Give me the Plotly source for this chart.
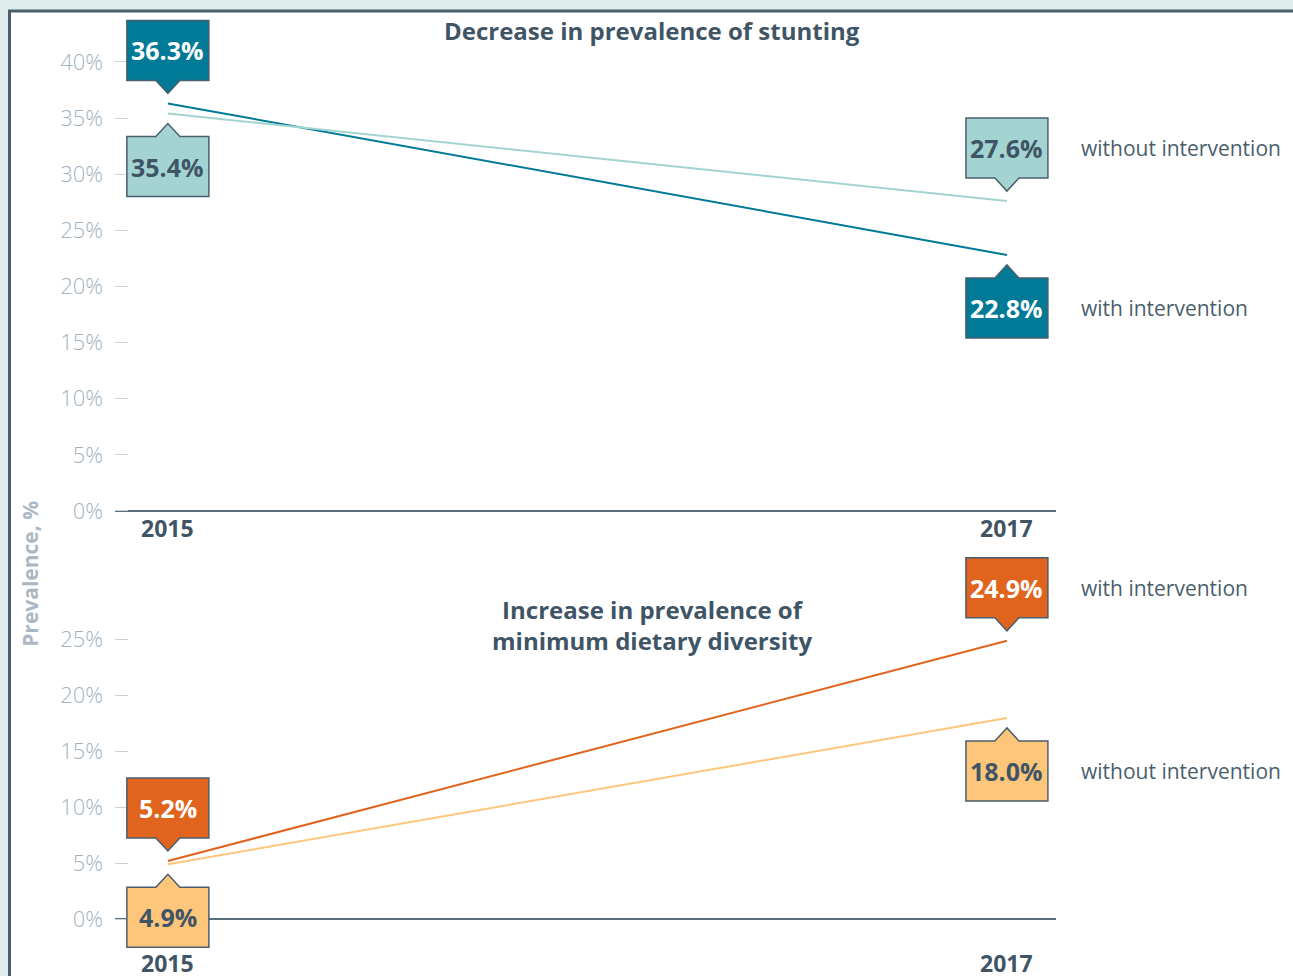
import plotly.graph_objects as go

years = [2015, 2017]
year_labels = ["2015", "2017"]

stunting_with = [36.3, 22.8]
stunting_without = [35.4, 27.6]
diversity_with = [5.2, 24.9]
diversity_without = [4.9, 18.0]

top_ticks = [0, 5, 10, 15, 20, 25, 30, 35, 40]
top_tick_text = ["0%", "5%", "10%", "15%", "20%", "25%", "30%", "35%", "40%"]
bottom_ticks = [0, 5, 10, 15, 20, 25]
bottom_tick_text = ["0%", "5%", "10%", "15%", "20%", "25%"]

DARK = "#3f5566"
EDGE = "#4a5e6d"
TEAL = "#007a96"
LIGHT_TEAL = "#a3d4d2"
ORANGE = "#e0631e"
LIGHT_ORANGE = "#fdc67b"
FONT = "Open Sans"

# pixel geometry of the page (margins 0 top/bottom, plot x from 115 to 1056)
W, H = 1293, 976
L, R = 115, 1056


def px_x(p):
    return (p - L) / (R - L)


def px_y(p):
    return (H - p) / H


# series: values, colour, text colour, callout side per year, axis suffix, label
series = [
    (stunting_with, TEAL, "white", ["up", "down"], "", "with intervention"),
    (stunting_without, LIGHT_TEAL, DARK, ["down", "up"], "", "without intervention"),
    (diversity_with, ORANGE, "white", ["up", "up"], "2", "with intervention"),
    (diversity_without, LIGHT_ORANGE, DARK, ["down", "down"], "2", "without intervention"),
]

fig = go.Figure()
shapes = []
annotations = []

# white panel with dark border on a light background
shapes.append(dict(type="rect", xref="paper", yref="paper",
                   x0=px_x(9.5), x1=px_x(1310), y0=px_y(1000), y1=px_y(11),
                   fillcolor="white", line=dict(color=EDGE, width=3), layer="below"))

for values, color, txt_color, sides, ax, label in series:
    fig.add_trace(go.Scatter(x=years, y=values, mode="lines",
                             line=dict(color=color, width=2),
                             xaxis="x" + ax, yaxis="y" + ax,
                             hoverinfo="skip", showlegend=False))
    for yr, v, side in zip(years, values, sides):
        s = 1 if side == "up" else -1
        path = ("M -41 {a} L -41 {b} L 41 {b} L 41 {a} L 12 {a} L 0 {t} L -12 {a} Z"
                .format(a=23 * s, b=83 * s, t=10 * s))
        shapes.append(dict(type="path", xref="x" + ax, yref="y" + ax,
                           xsizemode="pixel", ysizemode="pixel",
                           xanchor=yr, yanchor=v, path=path,
                           fillcolor=color, line=dict(color=EDGE, width=1.5),
                           layer="above"))
        annotations.append(dict(x=yr, y=v, xref="x" + ax, yref="y" + ax,
                                text="<b>%.1f%%</b>" % v, showarrow=False,
                                yshift=53 * s,
                                font=dict(family=FONT, size=25, color=txt_color)))
    annotations.append(dict(x=years[-1], y=values[-1], xref="x" + ax, yref="y" + ax,
                            text=label, showarrow=False, xanchor="left",
                            xshift=72, yshift=(53 if sides[-1] == "up" else -53),
                            font=dict(family=FONT, size=21, color=EDGE)))

# year labels
for ax, shift in [("", -17), ("2", -44)]:
    for yr, lab in zip(years, year_labels):
        annotations.append(dict(x=yr, y=0, xref="x" + ax, yref="y" + ax,
                                text="<b>%s</b>" % lab, showarrow=False,
                                yshift=shift,
                                font=dict(family=FONT, size=23, color=DARK)))

# titles
annotations.append(dict(xref="paper", yref="paper", x=px_x(652), y=px_y(31),
                        xanchor="center", yanchor="middle",
                        text="<b>Decrease in prevalence of stunting</b>",
                        showarrow=False,
                        font=dict(family=FONT, size=24, color=DARK)))
annotations.append(dict(xref="paper", yref="paper", x=px_x(652), y=px_y(626),
                        xanchor="center", yanchor="middle",
                        text="<b>Increase in prevalence of<br>minimum dietary diversity</b>",
                        showarrow=False,
                        font=dict(family=FONT, size=24, color=DARK)))
annotations.append(dict(xref="paper", yref="paper", x=px_x(30), y=px_y(575),
                        xanchor="center", yanchor="middle",
                        text="<b>Prevalence, %</b>", textangle=-90, showarrow=False,
                        font=dict(family=FONT, size=21, color="#a9b8c4")))

x_range = [2014.874, 2017.117]
xaxis_common = dict(range=x_range, showgrid=False, zeroline=False,
                    showline=False, showticklabels=False, ticks="")
yaxis_common = dict(showgrid=False, showline=False, zeroline=True,
                    zerolinecolor="#5b6e7c", zerolinewidth=2,
                    ticks="inside", ticklen=13, tickwidth=1, tickcolor="#c8d2da",
                    ticklabelstandoff=11,
                    tickfont=dict(family=FONT, size=22, color="#a3b2be", weight=300))

fig.update_layout(
    width=W, height=H + 8,
    margin=dict(l=L, r=W - R, t=0, b=0, pad=0),
    paper_bgcolor="#e0eded",
    plot_bgcolor="rgba(0,0,0,0)",
    xaxis=dict(domain=[0, 1], anchor="y", **xaxis_common),
    yaxis=dict(domain=[px_y(516), 1], range=[-4 / 11.25, 512 / 11.25],
               tickvals=top_ticks, ticktext=top_tick_text, anchor="x",
               **yaxis_common),
    xaxis2=dict(domain=[0, 1], anchor="y2", **xaxis_common),
    yaxis2=dict(domain=[0, px_y(548)], range=[-55 / 11.2, 373 / 11.2],
                tickvals=bottom_ticks, ticktext=bottom_tick_text, anchor="x2",
                **yaxis_common),
    shapes=shapes,
    annotations=annotations,
)

fig.write_html("out.html", config={"displayModeBar": False},
               post_script="document.body.style.margin='0px';")
